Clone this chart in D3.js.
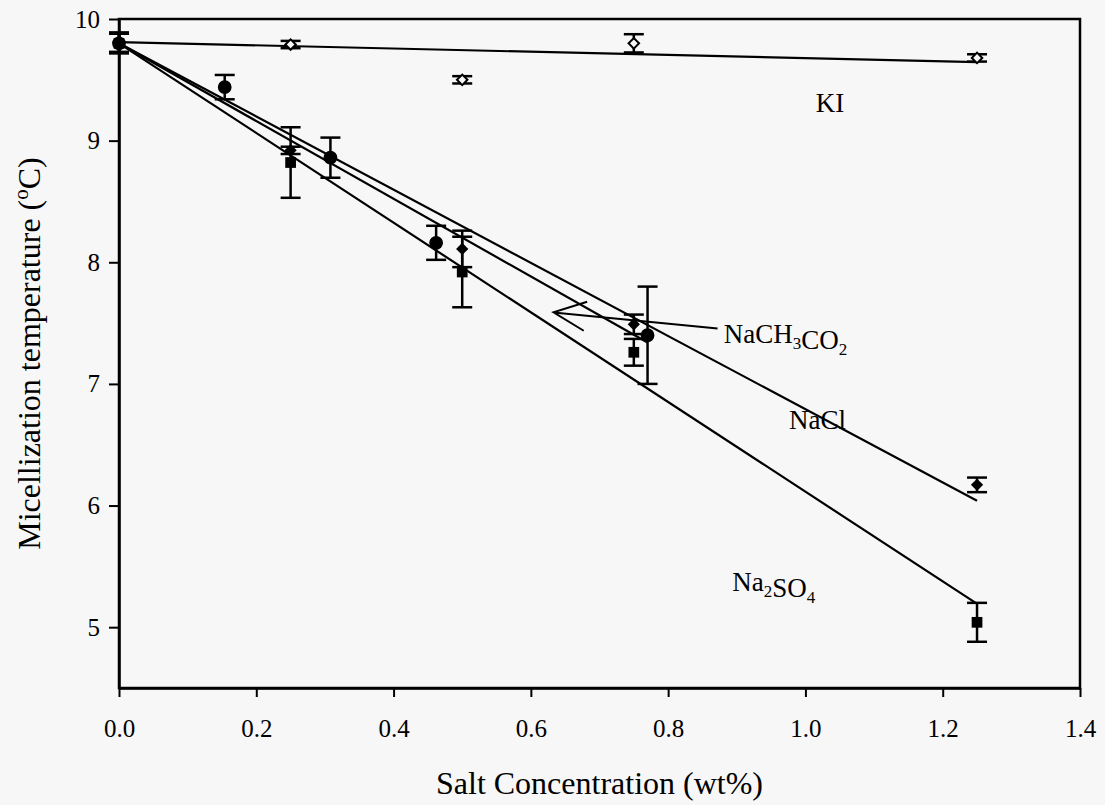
<!DOCTYPE html>
<html>
<head>
<meta charset="utf-8">
<script src="https://cdn.jsdelivr.net/npm/d3@7"></script>
<style>
    html, body { margin: 0; padding: 0; background: #f7f7f7; }
    svg { display: block; }
</style>
</head>
<body>
<div id="chart"></div>
<script>
// Data (x = salt wt%, y = micellization temperature in °C)
const kiConc      = [0, 0.25, 0.5, 0.75, 1.25];
const kiTemp      = [9.81, 9.79, 9.50, 9.80, 9.68];
const kiErr       = [0.08, 0.03, 0.03, 0.075, 0.03];

const naclConc    = [0, 0.25, 0.5, 0.75, 1.25];
const naclTemp    = [9.80, 8.92, 8.11, 7.49, 6.17];
const naclErr     = [0.08, 0.03, 0.15, 0.08, 0.06];

const na2so4Conc  = [0, 0.25, 0.5, 0.75, 1.25];
const na2so4Temp  = [9.80, 8.82, 7.92, 7.26, 5.04];
const na2so4Err   = [0.08, 0.29, 0.29, 0.11, 0.16];

const acetConc    = [0, 0.154, 0.308, 0.462, 0.77];
const acetTemp    = [9.80, 9.44, 8.86, 8.16, 7.40];
const acetErr     = [0.08, 0.10, 0.165, 0.14, 0.40];

// fitted lines, end points
const kiFit       = [[0, 9.81], [1.25, 9.645]];
const naclFit     = [[0, 9.80], [1.25, 6.04]];
const acetFit     = [[0, 9.80], [0.77, 7.34]];
const na2so4Fit   = [[0, 9.80], [1.248, 5.20]];

const xTicks      = [0, 0.2, 0.4, 0.6, 0.8, 1.0, 1.2, 1.4];
const yTicks      = [5, 6, 7, 8, 9, 10];

const Width = 1105, Height = 805;
const margin = { Top: 19, Right: 25, Bottom: 117, Left: 119 };
const font = "'Liberation Serif', 'Times New Roman', serif";

const svg =
    d3.select("#chart")
        .append("svg")
            .attr("width", Width)
            .attr("height", Height)
            .style("background", "#f7f7f7");

const xScale =
    d3.scaleLinear()
        .domain([0, 1.4])
        .range([margin.Left, Width - margin.Right]);
const yScale =
    d3.scaleLinear()
        .domain([4.5, 10])
        .range([Height - margin.Bottom, margin.Top]);

// Frame
svg.append("rect")
    .attr("x", xScale(0))
    .attr("y", yScale(10))
    .attr("width", xScale(1.4) - xScale(0))
    .attr("height", yScale(4.5) - yScale(10))
    .attr("fill", "none")
    .attr("stroke", "#000")
    .attr("stroke-width", 2.5);

// X axis
const xAxis = svg.append("g")
    .attr("transform", `translate(0, ${yScale(4.5)})`)
    .call(d3.axisBottom(xScale).tickValues(xTicks).tickFormat(d3.format(".1f"))
        .tickSizeInner(9).tickSizeOuter(0).tickPadding(22));
xAxis.select(".domain").attr("stroke-width", 2.5);
xAxis.selectAll(".tick line").attr("stroke-width", 2);
xAxis.selectAll("text").attr("font-family", font).attr("font-size", 25).attr("fill", "#000");

// Y axis
const yAxis = svg.append("g")
    .attr("transform", `translate(${xScale(0)}, 0)`)
    .call(d3.axisLeft(yScale).tickValues(yTicks).tickFormat(d3.format("d"))
        .tickSizeInner(10).tickSizeOuter(0).tickPadding(9));
yAxis.select(".domain").attr("stroke-width", 2.5);
yAxis.selectAll(".tick line").attr("stroke-width", 2);
yAxis.selectAll("text").attr("font-family", font).attr("font-size", 25).attr("fill", "#000");

// Axis titles
svg.append("text")
    .attr("x", (xScale(0) + xScale(1.4)) / 2)
    .attr("y", 794)
    .attr("text-anchor", "middle")
    .attr("font-family", font)
    .attr("font-size", 32)
    .text("Salt Concentration (wt%)");

const yTitle = svg.append("text")
    .attr("transform", `translate(40, ${(yScale(4.5) + yScale(10)) / 2}) rotate(-90)`)
    .attr("text-anchor", "middle")
    .attr("font-family", font)
    .attr("font-size", 32);
yTitle.append("tspan").text("Micellization temperature (");
yTitle.append("tspan").attr("font-size", 21).attr("dy", -12).text("o");
yTitle.append("tspan").attr("dy", 12).text("C)");

// Fitted lines
const line = d3.line().x(d => xScale(d[0])).y(d => yScale(d[1]));
svg.append("g")
    .attr("fill", "none")
    .attr("stroke", "#000")
    .attr("stroke-width", 2.2)
    .selectAll("path")
    .data([kiFit, naclFit, acetFit, na2so4Fit])
    .join("path")
    .attr("d", line);

// Error bars + markers for one series
function drawSeries(xs, ys, es, symbol) {
    const pts = xs.map((x, i) => ({ x: x, y: ys[i], e: es[i] }));
    const g = svg.append("g").attr("stroke", "#000");
    g.selectAll(".bar")
        .data(pts)
        .join("line")
        .attr("x1", d => xScale(d.x)).attr("x2", d => xScale(d.x))
        .attr("y1", d => yScale(d.y + d.e)).attr("y2", d => yScale(d.y - d.e))
        .attr("stroke-width", 2.5);
    g.selectAll(".capTop")
        .data(pts)
        .join("line")
        .attr("x1", d => xScale(d.x) - 10).attr("x2", d => xScale(d.x) + 10)
        .attr("y1", d => yScale(d.y + d.e)).attr("y2", d => yScale(d.y + d.e))
        .attr("stroke-width", 2.5);
    g.selectAll(".capBottom")
        .data(pts)
        .join("line")
        .attr("x1", d => xScale(d.x) - 10).attr("x2", d => xScale(d.x) + 10)
        .attr("y1", d => yScale(d.y - d.e)).attr("y2", d => yScale(d.y - d.e))
        .attr("stroke-width", 2.5);
    g.selectAll(".marker")
        .data(pts)
        .join("path")
        .attr("transform", d => `translate(${xScale(d.x)}, ${yScale(d.y)}) rotate(${symbol.rotate})`)
        .attr("d", d3.symbol().type(symbol.type).size(symbol.size))
        .attr("fill", symbol.fill)
        .attr("stroke-width", symbol.stroke);
}

drawSeries(kiConc, kiTemp, kiErr, { type: d3.symbolSquare, size: 55, rotate: 45, fill: "#f7f7f7", stroke: 2 });
drawSeries(na2so4Conc, na2so4Temp, na2so4Err, { type: d3.symbolSquare, size: 115, rotate: 0, fill: "#000", stroke: 0 });
drawSeries(naclConc, naclTemp, naclErr, { type: d3.symbolSquare, size: 75, rotate: 45, fill: "#000", stroke: 0 });
drawSeries(acetConc, acetTemp, acetErr, { type: d3.symbolCircle, size: 150, rotate: 0, fill: "#000", stroke: 0 });

// Arrow pointing at the acetate line
const arrowTail = [0.872, 7.456], arrowTip = [0.633, 7.588];
const arrowWing1 = [0.682, 7.675], arrowWing2 = [0.677, 7.437];
svg.append("path")
    .attr("d", line([arrowTail, arrowTip]) + line([arrowWing1, arrowTip, arrowWing2]))
    .attr("fill", "none")
    .attr("stroke", "#000")
    .attr("stroke-width", 2);

// Series labels
function label(x, y, parts) {
    const t = svg.append("text")
        .attr("x", xScale(x))
        .attr("y", yScale(y))
        .attr("font-family", font)
        .attr("font-size", 27);
    parts.forEach(p => {
        if (p.sub) {
            t.append("tspan").attr("font-size", 17).attr("dy", 6).text(p.sub);
            t.append("tspan").attr("dy", -6).text("");
        } else {
            t.append("tspan").text(p.txt);
        }
    });
}
label(1.015, 9.238, [{ txt: "KI" }]);
label(0.881, 7.338, [{ txt: "NaCH" }, { sub: "3" }, { txt: "CO" }, { sub: "2" }]);
label(0.976, 6.626, [{ txt: "NaCl" }]);
label(0.8935, 5.30, [{ txt: "Na" }, { sub: "2" }, { txt: "SO" }, { sub: "4" }]);
</script>
</body>
</html>
